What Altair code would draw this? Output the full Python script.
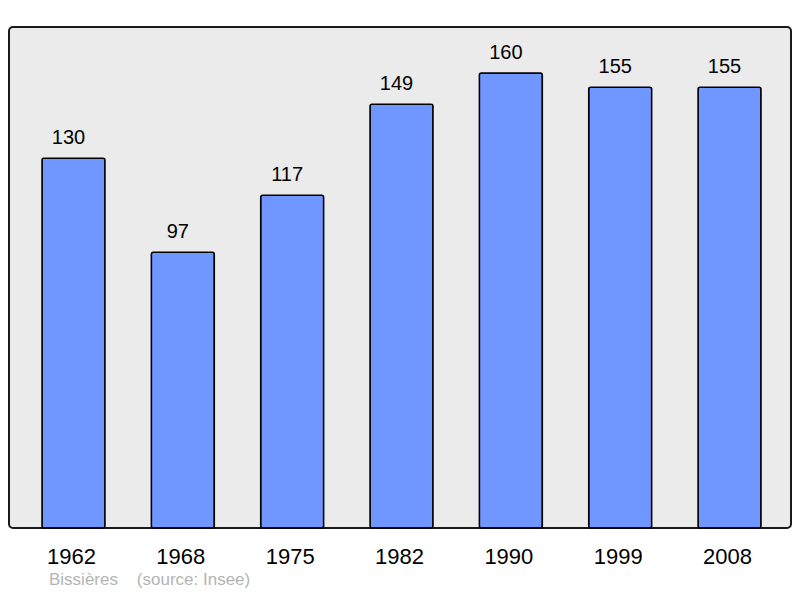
import altair as alt
import pandas as pd

years = ["1962", "1968", "1975", "1982", "1990", "1999", "2008"]
population = [130, 97, 117, 149, 160, 155, 155]

df = pd.DataFrame({"year": years, "pop": population})

FONT = "Liberation Sans"

x_enc = alt.X(
    "year:N",
    sort=years,
    scale=alt.Scale(paddingInner=0.424, paddingOuter=0.288, align=0.524),
    axis=alt.Axis(
        title=None, domain=False, ticks=False, labelAngle=0,
        labelFontSize=22, labelColor="black", labelFont=FONT,
        labelPadding=18, labelOffset=-2, labelFontWeight="normal",
    ),
)
y_enc = alt.Y("pop:Q", scale=alt.Scale(domain=[0, 176.2], nice=False), axis=None)

bars = alt.Chart(df).mark_bar(
    color="#7096ff", stroke="black", strokeWidth=1.5, cornerRadius=2
).encode(x=x_enc, y=y_enc)

labels = alt.Chart(df).mark_text(
    baseline="alphabetic", dy=-14.5, dx=-5, fontSize=20, font=FONT, color="black"
).encode(x=x_enc, y=y_enc, text="pop:Q")

chart = (
    alt.layer(bars, labels)
    .properties(
        width=782,
        height=501,
        autosize=alt.AutoSizeParams(type="none"),
        padding={"left": 1, "top": 19, "right": 1, "bottom": 62},
        title=alt.TitleParams(
            "Bissières\u00a0\u00a0\u00a0\u00a0(source: Insee)",
            orient="bottom", anchor="start", dx=40, offset=18,
            fontSize=17, font=FONT, color="#b4b4b4", fontWeight="normal",
            baseline="alphabetic",
        ),
    )
    .configure_view(fill="#ebebeb", stroke="#1a1a1a", strokeWidth=2, cornerRadius=4)
)

chart.save("out.html", embed_options={"renderer": "svg", "actions": False})
